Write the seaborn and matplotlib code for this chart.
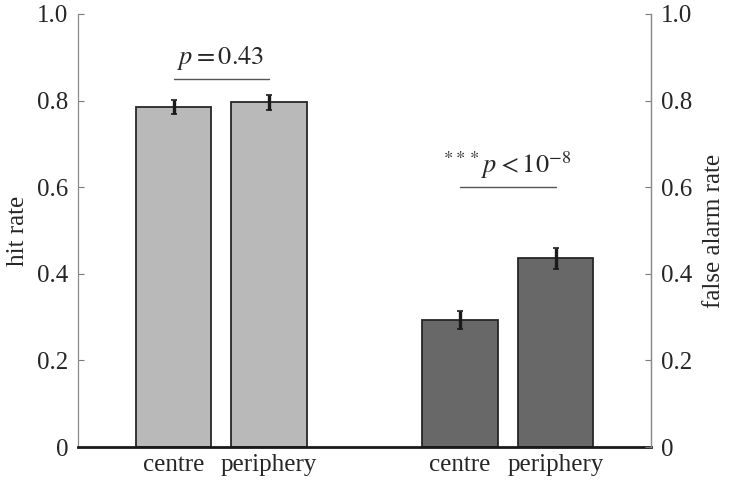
import matplotlib
matplotlib.use("Agg")
import matplotlib.pyplot as plt
import numpy as np
import pandas as pd
import seaborn as sns

# bar data
positions = [0, 1, 3, 4]
tick_positions = [0, 1, 2, 3, 4]
tick_labels = ["centre", "periphery", "", "centre", "periphery"]
measures = ["hit", "hit", "fa", "fa"]
rates = [0.785, 0.796, 0.293, 0.436]
errors = [0.017, 0.017, 0.021, 0.024]
y_ticks = [0, 0.2, 0.4, 0.6, 0.8, 1.0]
y_tick_labels = ["0", "0.2", "0.4", "0.6", "0.8", "1.0"]

palette = {"hit": "#b9b9b9", "fa": "#686868"}

sns.set_theme(style="white")
plt.rcParams["font.family"] = ["Liberation Serif", "DejaVu Serif"]
plt.rcParams["mathtext.fontset"] = "stix"

df = pd.DataFrame({"pos": positions, "rate": rates, "measure": measures})

fig = plt.figure(figsize=(7.31, 4.80), dpi=100)
ax = fig.add_axes([78 / 731, 33 / 480, 573 / 731, 433 / 480])

sns.barplot(
    data=df, x="pos", y="rate", hue="measure", palette=palette,
    native_scale=True, dodge=False, width=0.79, legend=False,
    edgecolor="#262626", linewidth=1.3, ax=ax,
)
ax.errorbar(positions, rates, yerr=errors, fmt="none", ecolor="#1a1a1a",
            elinewidth=2.4, capsize=2, capthick=1.2)

ax.set_xlim(-1.0, 5.0)
ax.set_ylim(0, 1.0)
ax.set_xticks(tick_positions)
ax.set_xticklabels(tick_labels, fontsize=18)
ax.set_yticks(y_ticks)
ax.set_yticklabels(y_tick_labels, fontsize=18)
ax.set_xlabel("")
ax.set_ylabel("hit rate", fontsize=18, labelpad=6)

ax.tick_params(axis="both", direction="in", length=4, width=0.8, color="#7a7a7a", pad=7)
ax.tick_params(axis="x", pad=5)
for side in ["left", "right"]:
    ax.spines[side].set_color("#8a8a8a")
    ax.spines[side].set_linewidth(0.9)
ax.spines["top"].set_visible(False)
ax.spines["bottom"].set_color("#1a1a1a")
ax.spines["bottom"].set_linewidth(2.0)

ax2 = ax.twinx()
ax2.set_ylim(0, 1.0)
ax2.set_yticks(y_ticks)
ax2.set_yticklabels(y_tick_labels, fontsize=18)
ax2.set_ylabel("false alarm rate", fontsize=18, labelpad=8)
ax2.tick_params(axis="y", direction="in", length=4, width=0.8, color="#7a7a7a", pad=7)
for side in ["top", "left", "bottom"]:
    ax2.spines[side].set_visible(False)
ax2.spines["right"].set_color("#8a8a8a")
ax2.spines["right"].set_linewidth(0.9)

# significance annotations
ax.plot([0, 1], [0.85, 0.85], color="#555555", lw=1.0)
ax.text(0.49, 0.885, r"$p = 0.43$", ha="center", va="baseline", fontsize=19)
ax.plot([3, 4], [0.60, 0.60], color="#555555", lw=1.0)
ax.text(3.5, 0.633, r"$^{***}p < 10^{-8}$", ha="center", va="baseline", fontsize=19)

fig.savefig("out.png", dpi=100)
